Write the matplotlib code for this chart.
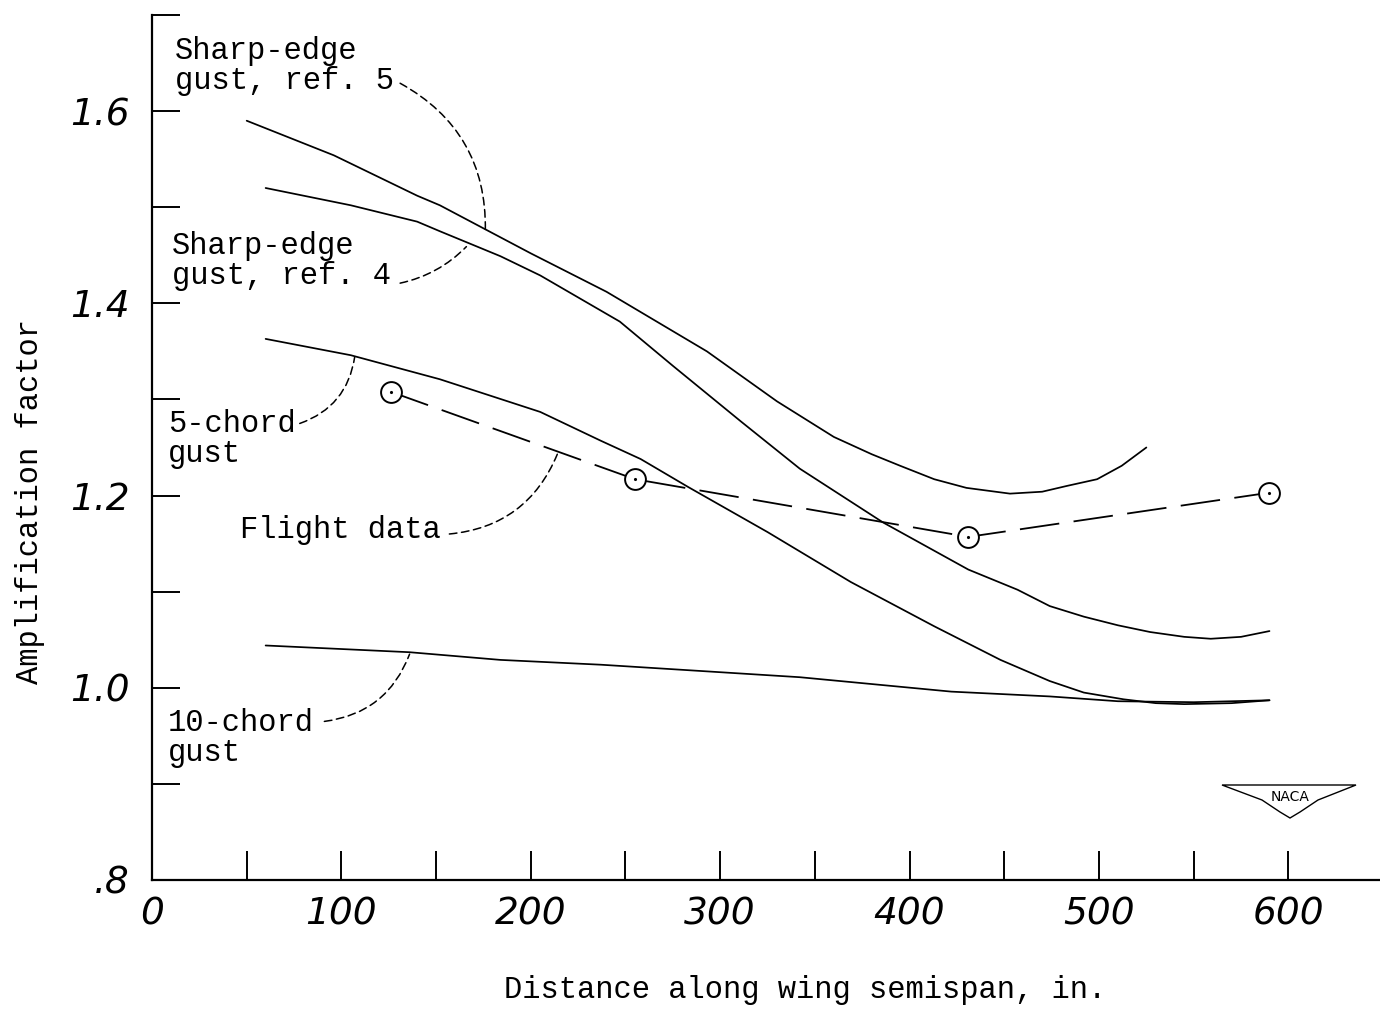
import matplotlib
matplotlib.use("Agg")
import matplotlib.pyplot as plt
import numpy as np

# --- Data (distance in., amplification factor) ---
sharp5_x = [50, 96, 140, 152, 200, 240, 293, 330, 360, 380, 395, 413, 430, 453, 470, 483, 499, 512, 525]
sharp5_y = [1.590, 1.554, 1.512, 1.502, 1.452, 1.412, 1.350, 1.298, 1.261, 1.243, 1.231, 1.217,
            1.208, 1.202, 1.204, 1.210, 1.217, 1.231, 1.250]

sharp4_x = [60, 105, 140, 152, 184, 205, 247, 275, 311, 342, 386, 431, 457, 474, 492, 510, 527, 545, 559, 575, 590]
sharp4_y = [1.520, 1.502, 1.485, 1.475, 1.449, 1.429, 1.381, 1.335, 1.277, 1.228, 1.172, 1.123,
            1.102, 1.085, 1.074, 1.065, 1.058, 1.053, 1.051, 1.053, 1.059]

chord5_x = [60, 105, 152, 205, 237, 258, 283, 325, 369, 413, 448, 474, 492, 513, 530, 545, 570, 590]
chord5_y = [1.363, 1.346, 1.321, 1.287, 1.257, 1.238, 1.209, 1.162, 1.110, 1.064, 1.029, 1.007,
            0.995, 0.988, 0.984, 0.983, 0.984, 0.987]

chord10_x = [60, 136, 184, 237, 342, 422, 474, 510, 550, 590]
chord10_y = [1.044, 1.037, 1.029, 1.024, 1.011, 0.996, 0.991, 0.986, 0.985, 0.987]

flight_x = [126, 255, 431, 590]
flight_y = [1.308, 1.217, 1.157, 1.203]

x_ticks = [0, 100, 200, 300, 400, 500, 600]
y_ticks = [0.8, 1.0, 1.2, 1.4, 1.6]
y_tick_labels = [".8", "1.0", "1.2", "1.4", "1.6"]

# --- Style ---
mono = "Liberation Mono"
txt_size = 22
tick_font = dict(family="DejaVu Sans", style="italic", size=27)

fig = plt.figure(figsize=(13.8, 10.09), dpi=100)
ax = fig.add_axes([152 / 1380, 129 / 1009, 1 - 152 / 1380 - 0.0005, (880 - 15) / 1009])

lw = 1.25
for xs, ys in [(sharp5_x, sharp5_y), (sharp4_x, sharp4_y), (chord5_x, chord5_y), (chord10_x, chord10_y)]:
    ax.plot(xs, ys, color="black", lw=lw, solid_capstyle="round", solid_joinstyle="round", zorder=2)

# flight data: long dashes, open circles with a center dot
ax.plot(flight_x, flight_y, color="black", lw=1.3, dashes=(22, 8), zorder=3)
ax.plot(flight_x, flight_y, ls="none", marker="o", ms=15, mfc="white", mec="black", mew=1.4, zorder=4)
ax.plot(flight_x, flight_y, ls="none", marker=".", ms=2.5, color="black", zorder=5)

ax.set_xlim(0, 648)
ax.set_ylim(0.8, 1.7)

for s in ["top", "right"]:
    ax.spines[s].set_visible(False)
for s in ["left", "bottom"]:
    ax.spines[s].set_linewidth(1.6)

ax.set_xticks(x_ticks)
ax.set_xticks(np.arange(50, 600, 100), minor=True)
ax.set_yticks(y_ticks)
ax.set_yticks(np.arange(0.9, 1.75, 0.2), minor=True)
ax.set_xticklabels([str(v) for v in x_ticks], fontdict=tick_font)
ax.set_yticklabels(y_tick_labels, fontdict=tick_font)
ax.tick_params(axis="x", which="both", direction="in", length=21, width=1.4, pad=12)
ax.tick_params(axis="y", which="both", direction="in", length=20, width=1.4, pad=16)

# --- Curve labels with dashed leaders ---
def label(text, x, y):
    ax.text(x, y, text, family=mono, size=txt_size, ha="left", va="top", linespacing=1.0)

def leader(start, end, rad):
    ax.annotate("", xy=end, xytext=start,
                arrowprops=dict(arrowstyle="-", lw=1.1, linestyle=(0, (5, 3)),
                                connectionstyle=f"arc3,rad={rad}", shrinkA=0, shrinkB=0))

label("Sharp-edge\ngust, ref. 5", 12, 1.678)
leader((131, 1.629), (176, 1.476), -0.3)

label("Sharp-edge\ngust, ref. 4", 10.5, 1.475)
leader((131, 1.421), (166, 1.459), 0.15)

label("5-chord\ngust", 8.5, 1.290)
leader((78, 1.275), (107, 1.344), 0.3)

label("Flight data", 46.5, 1.180)
leader((157, 1.160), (214, 1.243), 0.3)

label("10-chord\ngust", 8.5, 0.979)
leader((91, 0.965), (136, 1.035), 0.3)

# axis titles
fig.text(805 / 1380, 1 - 990 / 1009, "Distance along wing semispan, in.", family=mono,
         size=txt_size, ha="center", va="center")
fig.text(30 / 1380, 1 - 501 / 1009, "Amplification factor", family=mono, size=txt_size,
         ha="center", va="center", rotation=90)

# NACA emblem (small wing outline with lettering)
wx = np.array([1222, 1356, 1318, 1300, 1290, 1280, 1262]) / 1380
wy = 1 - np.array([785, 785, 800, 812, 818, 812, 800]) / 1009
fig.add_artist(plt.Polygon(np.c_[wx, wy], closed=True, fill=False, lw=1.0, ec="black",
                           transform=fig.transFigure))
fig.text(1290 / 1380, 1 - 797 / 1009, "NACA", size=10, ha="center", va="center", family="DejaVu Sans")

fig.savefig("out.png", dpi=100)
